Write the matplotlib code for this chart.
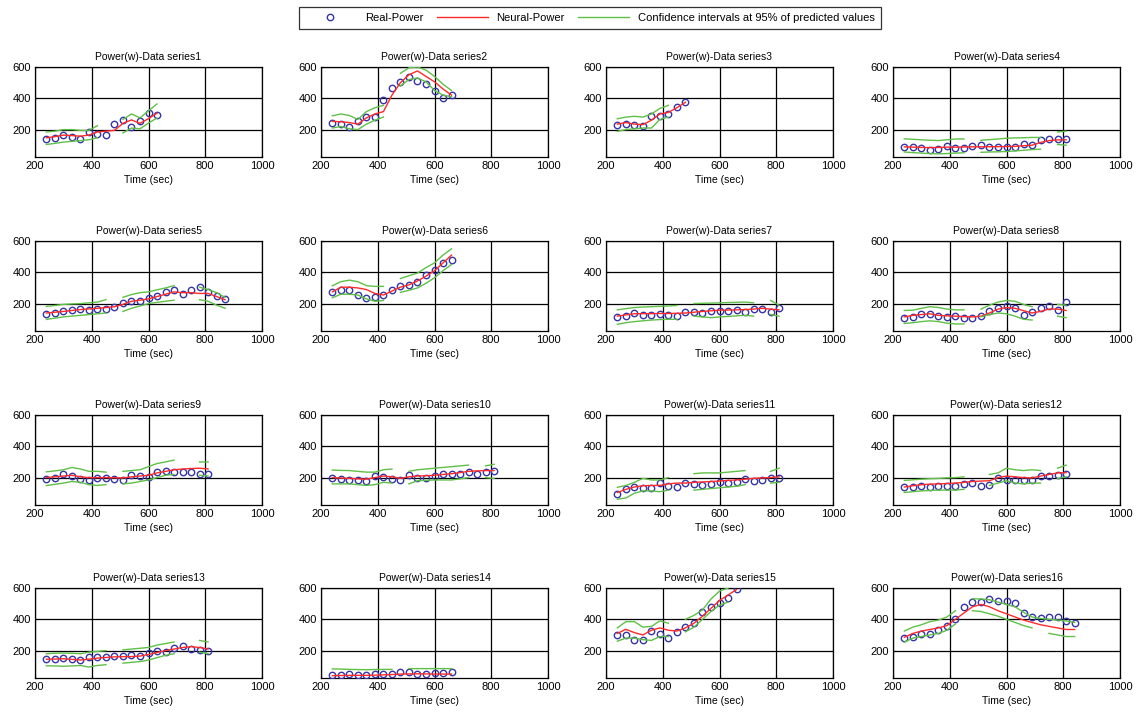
import numpy as np
import matplotlib
matplotlib.use("Agg")
import matplotlib.pyplot as plt
from matplotlib.lines import Line2D

plt.rcParams["font.family"] = ["Liberation Sans", "DejaVu Sans"]

# Sampling instants (sec)
time_sec = [240, 270, 300, 330, 360, 390, 420, 450, 480, 510, 540,
            570, 600, 630, 660, 690, 720, 750, 780, 810, 840, 870]

N = None  # gap in the confidence band

real_1 = [137, 147, 168, 154, 141, 185, 175, 168, 236, 259, 217, 253, 309, 295]
neural_1 = [148, 155, 165, 162, 158, 165, 185, 190, 195, 240, 262, 240, 270, 305]
hi_1 = [185, 190, 200, 200, 195, 195, 225, N, N, 265, 300, 275, 320, 364]
lo_1 = [105, 112, 120, 125, 130, 135, 148, N, N, 179, 210, 205, 242, 274]

real_2 = [242, 238, 215, 257, 278, 278, 389, 467, 505, 533, 509, 491, 446, 404, 421]
neural_2 = [253, 250, 245, 235, 275, 300, 315, 420, 500, 550, 575, 540, 505, 460, 420]
hi_2 = [288, 300, 290, 265, 315, 340, 355, N, 560, 595, 600, 580, 540, 490, 450]
lo_2 = [210, 220, 205, 200, 235, 260, 280, N, 480, 520, 530, 505, 450, 420, 410]

real_3 = [232, 238, 232, 225, 284, 284, 301, 347, 375]
neural_3 = [235, 245, 235, 232, 260, 300, 310, 340, 375]
hi_3 = [269, 280, 285, 280, 300, 335, 355, N, N]
lo_3 = [189, 200, 205, 210, 210, 265, 280, N, N]

real_4 = [91, 91, 82, 69, 74, 95, 84, 84, 95, 99, 91, 91, 88, 91, 105, 99, 133, 141, 141, 137]
neural_4 = [90, 88, 86, 85, 86, 88, 88, 89, 90, 90, 91, 91, 92, 93, 97, 100, 118, 130, 134, 135]
hi_4 = [141, 138, 135, 132, 130, 135, 140, 140, N, 132, 136, 140, 145, 147, 148, 150, 150, N, 185, 190]
lo_4 = [57, 53, 50, 47, 45, 47, 50, 52, N, 55, 57, 58, 60, 64, 68, 72, 75, N, 105, 100]

real_5 = [132, 143, 154, 160, 165, 160, 165, 165, 176, 204, 215, 215, 237, 248, 275,
          288, 264, 288, 303, 275, 248, 231]
neural_5 = [140, 145, 150, 156, 162, 166, 170, 175, 180, 195, 215, 222, 230, 245, 260,
            275, 270, 270, 265, 265, 245, 225]
hi_5 = [182, 188, 195, 198, 200, 205, 210, 225, N, 240, 258, 270, 275, 288, 300,
        315, N, N, 305, 290, 270, 240]
lo_5 = [99, 107, 115, 120, 125, 130, 135, 140, N, 150, 170, 185, 200, 208, 215,
        222, N, N, 225, 215, 190, 170]

real_6 = [275, 288, 288, 253, 237, 242, 253, 288, 310, 319, 341, 380, 413, 457, 479]
neural_6 = [275, 305, 305, 300, 290, 265, 255, 280, 305, 320, 345, 375, 410, 460, 510]
hi_6 = [314, 340, 350, 340, 315, 310, 310, N, 360, 378, 395, 430, 460, 510, 550]
lo_6 = [237, 260, 260, 255, 230, 215, 220, N, 272, 285, 300, 330, 365, 410, 450]

real_7 = [116, 123, 138, 127, 127, 134, 127, 123, 145, 145, 138, 154, 154, 154, 160,
          149, 165, 167, 149, 171]
neural_7 = [120, 128, 135, 136, 136, 137, 137, 138, 140, 145, 150, 154, 158, 159, 160,
            162, 165, 170, 165, 160]
hi_7 = [160, 168, 175, 178, 180, 183, 185, 188, N, 200, 202, 203, 205, 207, 208,
        210, 205, N, 220, 190]
lo_7 = [68, 78, 85, 90, 95, 98, 100, 100, N, 120, 115, 110, 115, 118, 122,
        125, 120, N, 130, 120]

real_8 = [110, 116, 132, 134, 121, 116, 121, 110, 110, 121, 154, 171, 182, 171, 125,
          145, 171, 182, 160, 209]
neural_8 = [115, 125, 130, 135, 125, 122, 120, 117, 115, 120, 140, 165, 175, 170, 155,
            140, 150, 165, 165, 156]
hi_8 = [156, 158, 170, 180, 175, 165, 160, 160, N, 165, 190, 210, 220, 215, 195,
        180, N, N, 195, 190]
lo_8 = [73, 78, 85, 90, 85, 75, 70, 70, N, 115, 130, 140, 135, 120, 100,
        95, N, N, 120, 110]

real_9 = [189, 200, 222, 209, 189, 187, 200, 198, 189, 187, 215, 209, 204, 237, 244,
          237, 237, 233, 226, 226]
neural_9 = [200, 205, 210, 215, 205, 200, 200, 200, 199, 198, 205, 210, 215, 230, 240,
            250, 255, 258, 260, 255]
hi_9 = [237, 243, 250, 265, 255, 240, 240, 235, N, 240, 245, 250, 270, 290, 300,
        312, N, N, 300, 300]
lo_9 = [149, 157, 165, 175, 170, 155, 150, 155, N, 160, 165, 175, 185, 200, 215,
        220, N, N, 215, 210]

real_10 = [200, 189, 187, 187, 178, 209, 204, 189, 187, 215, 200, 200, 209, 222, 222,
           222, 233, 220, 237, 242]
neural_10 = [200, 197, 195, 192, 190, 200, 210, 205, 195, 205, 210, 212, 215, 220, 225,
             232, 240, 243, 245, 245]
hi_10 = [248, 246, 245, 240, 235, 235, 250, 255, N, 240, 250, 255, 260, 265, 270,
         275, 280, N, 275, 285]
lo_10 = [160, 160, 160, 155, 150, 155, 170, 165, N, 160, 180, 183, 185, 185, 185,
         192, 200, N, 200, 195]

real_11 = [95, 127, 143, 134, 134, 167, 149, 138, 167, 160, 154, 156, 171, 167, 171,
           193, 176, 182, 200, 200]
neural_11 = [105, 125, 140, 148, 150, 150, 160, 165, 165, 170, 172, 175, 178, 182, 185,
             190, 195, 198, 200, 205]
hi_11 = [138, 150, 170, 195, 185, 185, 200, N, N, 225, 230, 230, 230, 235, 240,
         245, N, N, 240, 260]
lo_11 = [62, 70, 100, 115, 115, 110, 120, N, N, 120, 125, 130, 135, 140, 145,
         155, N, N, 165, 170]

real_12 = [138, 143, 149, 143, 149, 145, 149, 156, 167, 149, 154, 198, 187, 187, 182,
           182, 209, 211, 215, 226]
neural_12 = [140, 148, 155, 158, 160, 162, 165, 170, 175, 178, 180, 200, 210, 205, 200,
             198, 210, 220, 230, 232]
hi_12 = [182, 186, 190, 193, 195, 198, 200, 205, N, N, 220, 230, 260, 250, 245,
         250, 245, N, 260, 280]
lo_12 = [105, 110, 115, 118, 120, 120, 120, 125, N, N, 150, 165, 180, 165, 160,
         165, 165, N, 195, 205]

real_13 = [146, 146, 152, 146, 142, 157, 157, 157, 163, 163, 170, 163, 185, 200, 189,
           217, 228, 211, 206, 196]
neural_13 = [145, 146, 148, 144, 140, 145, 152, 156, 160, 161, 162, 165, 175, 188, 200,
             210, 220, 225, 220, 210]
hi_13 = [180, 183, 185, 183, 180, 190, 195, 200, N, 205, 210, 215, 220, 235, 245,
         255, N, N, 265, 255]
lo_13 = [103, 102, 100, 102, 105, 95, 105, 110, N, 120, 125, 130, 140, 155, 170,
         180, N, N, 190, 180]

real_14 = [42, 42, 51, 42, 42, 51, 53, 53, 62, 62, 51, 51, 57, 57, 62]
neural_14 = [40, 41, 42, 42, 42, 43, 45, 47, 50, 51, 52, 51, 50, 50, 50]
hi_14 = [83, 82, 80, 79, 78, 79, 80, 80, N, 85, 85, 85, 85, 85, 85]
lo_14 = [5, 5, 5, 5, 5, 5, 5, 5, N, 10, 10, 10, 10, 10, 10]

real_15 = [299, 299, 268, 268, 325, 308, 278, 319, 354, 379, 444, 481, 505, 537, 591]
neural_15 = [310, 336, 315, 300, 330, 345, 330, 325, 345, 375, 420, 470, 520, 555, 590]
hi_15 = [345, 385, 385, 350, 355, 390, 375, N, 400, 425, 460, 530, 580, 600, N]
lo_15 = [260, 280, 280, 270, 265, 290, 290, N, 320, 350, 400, 450, 490, 510, N]

real_16 = [278, 286, 304, 304, 332, 358, 400, 477, 510, 510, 527, 514, 520, 505, 440,
           412, 408, 412, 412, 390, 375]
neural_16 = [285, 310, 325, 335, 345, 360, 400, 440, 480, 495, 480, 455, 435, 415, 395,
             380, 365, 355, 345, 335, 335]
hi_16 = [325, 350, 365, 385, 395, 415, 455, N, 531, 530, 525, 510, 495, 480, 445,
         415, 405, 400, 395, 390, 380]
lo_16 = [254, 280, 290, 300, 310, 330, 370, N, 455, 450, 435, 420, 400, 380, 360,
         345, N, 310, 300, 290, 290]

series = [
    (real_1, neural_1, hi_1, lo_1), (real_2, neural_2, hi_2, lo_2),
    (real_3, neural_3, hi_3, lo_3), (real_4, neural_4, hi_4, lo_4),
    (real_5, neural_5, hi_5, lo_5), (real_6, neural_6, hi_6, lo_6),
    (real_7, neural_7, hi_7, lo_7), (real_8, neural_8, hi_8, lo_8),
    (real_9, neural_9, hi_9, lo_9), (real_10, neural_10, hi_10, lo_10),
    (real_11, neural_11, hi_11, lo_11), (real_12, neural_12, hi_12, lo_12),
    (real_13, neural_13, hi_13, lo_13), (real_14, neural_14, hi_14, lo_14),
    (real_15, neural_15, hi_15, lo_15), (real_16, neural_16, hi_16, lo_16),
]

BLUE = "#3535a8"
RED = "#ff2a2a"
GREEN = "#5fc046"

W, H = 1140, 713
fig = plt.figure(figsize=(W / 100, H / 100), dpi=100)

col_left = [35, 321, 606, 893]
row_top = [67, 241, 415, 588]
ax_w, ax_h = 227, 90


def as_float(values):
    return np.array([np.nan if v is None else v for v in values], dtype=float)


for i, (real, neural, hi, lo) in enumerate(series):
    r, c = divmod(i, 4)
    ax = fig.add_axes([col_left[c] / W, 1 - (row_top[r] + ax_h) / H, ax_w / W, ax_h / H])
    t = np.array(time_sec[:len(real)], dtype=float)
    ax.plot(t, real, linestyle="none", marker="o", markersize=4.6,
            markerfacecolor="none", markeredgecolor=BLUE, markeredgewidth=1.0, zorder=3)
    ax.plot(t, neural, color=RED, linewidth=1.0, zorder=4)
    ax.plot(t, as_float(hi), color=GREEN, linewidth=1.0, zorder=4)
    ax.plot(t, as_float(lo), color=GREEN, linewidth=1.0, zorder=4)

    ax.set_xlim(200, 1000)
    ax.set_ylim(25, 600)
    ax.set_xticks([200, 400, 600, 800, 1000])
    ax.set_yticks([200, 400, 600])
    ax.grid(True, color="black", linewidth=0.9, linestyle="-")
    ax.set_axisbelow(True)
    for sp in ax.spines.values():
        sp.set_color("black")
        sp.set_linewidth(0.9)
    ax.tick_params(axis="both", direction="in", length=2, labelsize=8, pad=3,
                   colors="black")
    ax.set_title(f"Power(w)-Data series{i + 1}", fontsize=7.5, pad=5)
    ax.set_xlabel("Time (sec)", fontsize=7.5, labelpad=3)

handles = [
    Line2D([], [], linestyle="none", marker="o", markersize=4.6,
           markerfacecolor="none", markeredgecolor=BLUE, markeredgewidth=1.0),
    Line2D([], [], color=RED, linewidth=1.0),
    Line2D([], [], color=GREEN, linewidth=1.0),
]
labels = ["Real-Power", "Neural-Power", "Confidence intervals at 95% of predicted values"]
leg = fig.legend(handles, labels, loc="center", ncol=3,
                 bbox_to_anchor=(590 / W, 1 - 18 / H), fontsize=8,
                 frameon=True, fancybox=False, handlelength=4.6, handletextpad=0.8,
                 columnspacing=1.2, borderpad=0.5)
leg.get_frame().set_edgecolor("black")
leg.get_frame().set_linewidth(0.9)

fig.savefig("out.png", dpi=100, facecolor="white")
